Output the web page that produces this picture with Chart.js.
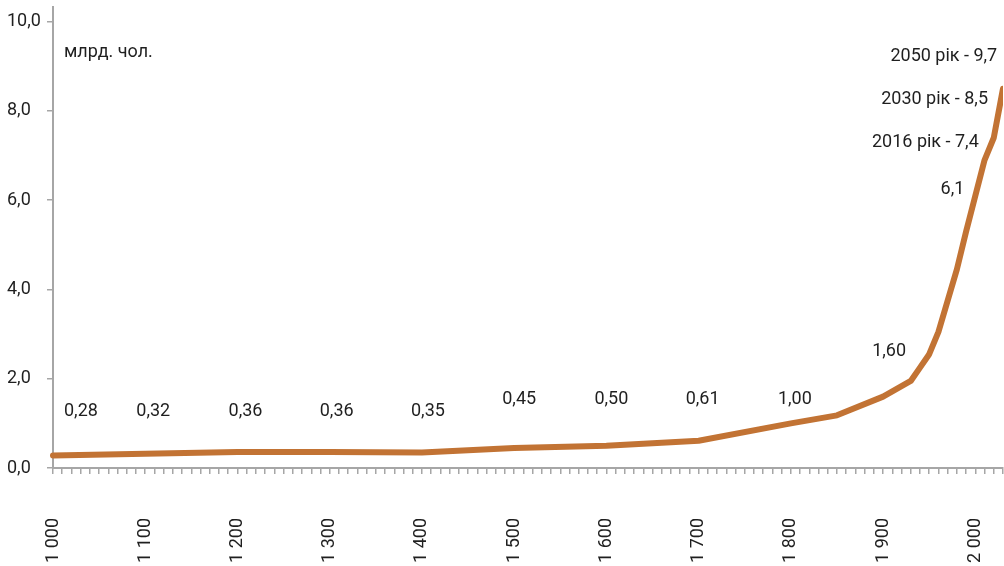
<!DOCTYPE html>
<html>
<head>
<meta charset="utf-8">
<script src="https://cdn.jsdelivr.net/npm/chart.js@4"></script>
<style>
  html, body { margin: 0; padding: 0; background: #fff; overflow: hidden; }
  #chart { display: block; }
</style>
</head>
<body>
<canvas id="chart" width="1004" height="566"></canvas>
<script>
// категорії: кожні 10 років + окремі роки прогнозу
const decades = [];
for (let y = 1000; y <= 2010; y += 10) decades.push(String(y));
const categories = decades.concat(['2016', '2030', '2050']);

// точки, які видно на лінії (млрд. чол.)
const pointYears  = ['1000', '1100', '1200', '1300', '1400', '1500', '1600', '1700', '1800', '1850',
                     '1900', '1930', '1940', '1950', '1960', '1970', '1980', '1990', '2000', '2010',
                     '2016', '2030', '2050'];
const pointValues = [0.28, 0.32, 0.36, 0.36, 0.35, 0.45, 0.50, 0.61, 1.00, 1.18,
                     1.60, 1.95, 2.25, 2.55, 3.05, 3.75, 4.45, 5.30, 6.10, 6.90,
                     7.40, 8.50, 9.70];

// підписи значень
const labelYears = ['1000', '1100', '1200', '1300', '1400', '1500', '1600', '1700', '1800', '1900',
                    '2000', '2016', '2030', '2050'];
const labelTexts = ['0,28', '0,32', '0,36', '0,36', '0,35', '0,45', '0,50', '0,61', '1,00', '1,60',
                    '6,1', '2016 рік - 7,4', '2030 рік - 8,5', '2050 рік - 9,7'];

const yTicks = [0, 2, 4, 6, 8, 10];
const unitText = 'млрд. чол.';

// розміщення підписів (окремо від даних)
const labelPlace = [
  { dx: 11, y: 1.26, align: 'left' },
  { dx: 8, y: 1.26, align: 'center' },
  { dx: 8, y: 1.26, align: 'center' },
  { dx: 7, y: 1.26, align: 'center' },
  { dx: 6, y: 1.26, align: 'center' },
  { dx: 5, y: 1.53, align: 'center' },
  { dx: 5, y: 1.53, align: 'center' },
  { dx: 4, y: 1.53, align: 'center' },
  { dx: 4, y: 1.53, align: 'center' },
  { dx: 6, y: 2.61, align: 'center' },
  { dx: -11, y: 6.23, align: 'right' },
  { dx: -15, y: 7.29, align: 'right' },
  { dx: -15, y: 8.25, align: 'right' },
  { dx: -15, y: 9.21, align: 'right' }
];

const lineData = categories.map(c => {
  const i = pointYears.indexOf(c);
  return i === -1 ? null : pointValues[i];
});

const FONT = 'Roboto, "Noto Sans", sans-serif';
const TEXT = '#1f1f1f';
const AXIS = '#a6a6a6';

const notesPlugin = {
  id: 'notes',
  afterDatasetsDraw(chart) {
    const ctx = chart.ctx;
    const xs = chart.scales.x;
    const ys = chart.scales.y;
    ctx.save();
    ctx.font = '18px ' + FONT;
    ctx.fillStyle = TEXT;
    ctx.textBaseline = 'middle';
    labelYears.forEach((yr, i) => {
      const p = labelPlace[i];
      const idx = categories.indexOf(yr);
      ctx.textAlign = p.align;
      ctx.fillText(labelTexts[i], xs.getPixelForValue(idx) + p.dx, ys.getPixelForValue(p.y));
    });
    ctx.textAlign = 'left';
    ctx.fillText(unitText, chart.chartArea.left + 11, ys.getPixelForValue(9.3));
    ctx.restore();
  }
};

new Chart(document.getElementById('chart'), {
  type: 'line',
  data: {
    labels: categories,
    datasets: [{
      data: lineData,
      borderColor: '#c27334',
      borderWidth: 6,
      borderCapStyle: 'round',
      borderJoinStyle: 'round',
      pointRadius: 0,
      tension: 0,
      spanGaps: true,
      fill: false
    }]
  },
  options: {
    responsive: false,
    animation: false,
    devicePixelRatio: 1,
    layout: { padding: { left: 7, top: 7, right: 1, bottom: 0 } },
    plugins: { legend: { display: false }, tooltip: { enabled: false } },
    scales: {
      x: {
        type: 'category',
        max: '2030',
        border: { color: AXIS, width: 2 },
        grid: { drawOnChartArea: false, drawTicks: true, tickLength: 6, color: AXIS, lineWidth: 1.5 },
        ticks: {
          autoSkip: false,
          minRotation: 90,
          maxRotation: 90,
          padding: 44,
          color: TEXT,
          font: { family: FONT, size: 18 },
          callback(value) {
            const yr = Number(this.getLabelForValue(value));
            if (yr % 100 !== 0 || yr > 2000) return '';
            return String(yr).replace(/(\d)(\d{3})$/, '$1 $2');
          }
        },
        afterFit(scale) {
          scale.height = 98;
          scale.paddingLeft = 0;
          scale.paddingRight = 0;
        }
      },
      y: {
        min: 0,
        max: 10.33,
        border: { color: AXIS, width: 2 },
        grid: { drawOnChartArea: false, drawTicks: true, tickLength: 6, color: AXIS, lineWidth: 1.5 },
        ticks: {
          crossAlign: 'far',
          color: TEXT,
          font: { family: FONT, size: 18 },
          callback: v => v.toFixed(1).replace('.', ',')
        },
        afterBuildTicks(scale) {
          scale.ticks = yTicks.map(v => ({ value: v }));
        },
        afterFit(scale) {
          scale.width = 46;
          scale.paddingTop = 0;
          scale.paddingBottom = 0;
        }
      }
    }
  },
  plugins: [notesPlugin]
});
</script>
</body>
</html>
